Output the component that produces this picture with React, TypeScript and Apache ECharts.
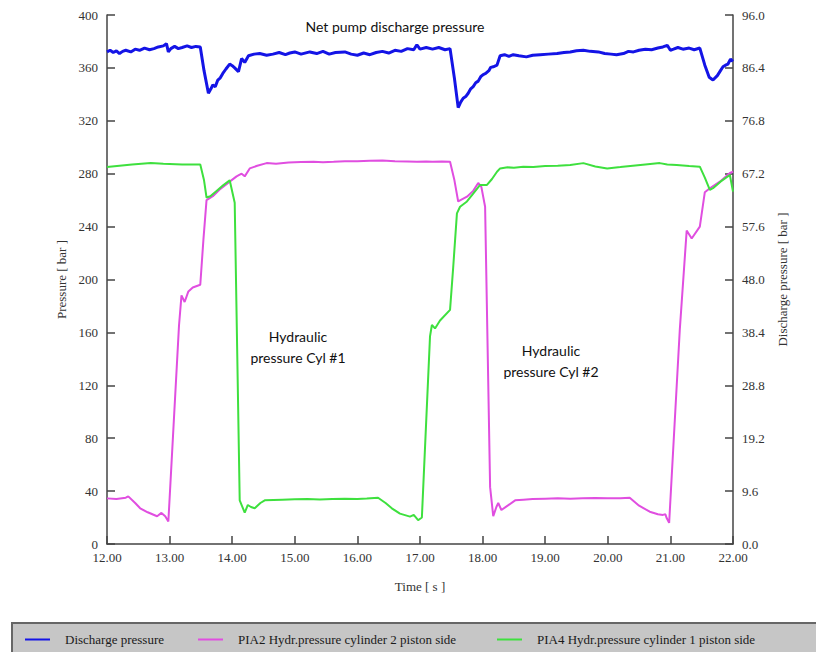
import React, { useEffect, useRef } from "react";
import * as echarts from "echarts";

// Time [s]
const xTicks = [12, 13, 14, 15, 16, 17, 18, 19, 20, 21, 22];

// Discharge pressure (right axis, bar)
const dischargeTime = [
  12.0, 12.05, 12.1, 12.15, 12.2, 12.25, 12.3, 12.38, 12.45, 12.52, 12.6, 12.68, 12.75, 12.82,
  12.9, 12.95, 12.98, 13.02, 13.08, 13.14, 13.2, 13.28, 13.35, 13.42, 13.49,
  13.55, 13.62, 13.66, 13.69, 13.73, 13.77, 13.81, 13.85, 13.9, 13.96, 14.0, 14.04, 14.1,
  14.15, 14.2, 14.26, 14.35, 14.44, 14.55, 14.65, 14.75, 14.85, 14.92, 15.0, 15.1, 15.24,
  15.35, 15.45, 15.55, 15.65, 15.8, 15.9, 16.0, 16.1, 16.2, 16.3, 16.4, 16.5, 16.6, 16.7,
  16.8, 16.9, 16.95, 17.0, 17.1, 17.2, 17.3, 17.4, 17.48,
  17.55, 17.61, 17.65, 17.69, 17.73, 17.77, 17.81, 17.85, 17.89, 17.93, 17.97, 18.01, 18.05,
  18.1, 18.13, 18.17, 18.23, 18.28, 18.35, 18.42, 18.49, 18.58, 18.7, 18.8, 18.92, 19.05,
  19.19, 19.3, 19.4, 19.5, 19.61, 19.72, 19.85, 19.95, 20.05, 20.14, 20.25, 20.33, 20.41,
  20.5, 20.6, 20.7, 20.8, 20.88, 20.95, 21.0, 21.05, 21.12, 21.2, 21.3, 21.38, 21.47,
  21.55, 21.62, 21.68, 21.75, 21.8, 21.84, 21.88, 21.92, 21.96, 22.0,
];
const dischargeValue = [
  89.3, 89.6, 89.2, 89.5, 89.0, 89.4, 89.6, 89.3, 89.8, 89.6, 90.0, 89.7, 89.9, 90.2,
  90.4, 90.8, 89.3, 89.9, 90.3, 89.9, 90.1, 90.4, 90.1, 90.3, 90.2,
  85.9, 81.8, 82.6, 83.3, 83.0, 84.2, 84.6, 85.4, 86.2, 87.1, 86.8, 86.4, 85.7,
  88.1, 87.4, 88.6, 88.9, 89.0, 88.7, 88.9, 89.2, 88.8, 89.1, 89.3, 88.9, 89.3,
  89.0, 89.4, 88.9, 89.2, 89.3, 88.9, 88.7, 89.1, 88.8, 89.2, 89.4, 89.1, 89.6, 89.4,
  89.9, 89.7, 90.6, 89.8, 90.1, 89.8, 90.1, 89.7, 89.9,
  84.5, 79.2, 80.2, 80.9, 81.2, 81.8, 82.6, 83.0, 83.7, 84.0, 84.8, 85.2, 85.4,
  85.9, 86.5, 86.6, 86.9, 88.6, 88.8, 88.5, 88.8, 88.6, 88.4, 88.7, 88.8, 88.9,
  89.0, 89.2, 89.3, 89.5, 89.6, 89.4, 89.3, 89.0, 88.9, 88.8, 89.0, 89.4, 89.3,
  89.6, 89.8, 89.7, 90.0, 90.2, 90.5, 89.6, 89.8, 90.1, 89.8, 90.0, 89.7, 90.0,
  86.9, 84.7, 84.2, 85.0, 85.9, 86.6, 86.9, 87.1, 88.0, 87.6,
];

// PIA2 Hydr.pressure cylinder 2 piston side (left axis, bar)
const pia2Time = [
  12.0, 12.15, 12.3, 12.34, 12.45, 12.53, 12.65, 12.8, 12.87, 12.93, 12.98, 13.15, 13.19,
  13.24, 13.3, 13.37, 13.49, 13.54, 13.59, 13.69, 13.8, 13.96, 14.07, 14.15, 14.2, 14.28,
  14.4, 14.55, 14.7, 14.9, 15.1, 15.3, 15.45, 15.62, 15.8, 16.0, 16.2, 16.4, 16.6, 16.8,
  16.95, 17.1, 17.2, 17.35, 17.48, 17.55, 17.61, 17.75, 17.85,
  17.93, 17.98, 18.04, 18.12, 18.17, 18.22, 18.25, 18.3, 18.4, 18.52, 18.65, 18.8, 19.0,
  19.2, 19.4, 19.6, 19.8, 20.0, 20.2, 20.35, 20.5, 20.67, 20.8, 20.88, 20.92, 20.94, 20.98,
  21.15, 21.26, 21.34, 21.47, 21.55, 21.63, 21.79, 21.95, 22.0,
];
const pia2Value = [
  34.5, 34, 35, 36, 31, 27, 24, 21, 23.5, 21, 17, 165, 188,
  183, 191, 194, 196, 230, 260, 263, 268, 274, 278, 280, 278, 284,
  286, 288, 287.5, 288.5, 288.8, 289, 288.6, 289, 289.5, 289.5, 289.8, 290, 289.5, 289.2,
  289, 289.3, 289, 289.2, 289, 275, 259, 262.6, 267,
  273, 270, 255, 43, 21, 28, 31, 25.7, 29, 33, 33.5, 34, 34.3,
  34.5, 34.2, 34.5, 34.8, 34.5, 34.6, 35, 29, 24.4, 22.5, 22, 22.5, 19.6, 16,
  162, 237, 231, 240, 266, 269, 274, 280.5, 281.5,
];

// PIA4 Hydr.pressure cylinder 1 piston side (left axis, bar)
const pia4Time = [
  12.0, 12.2, 12.4, 12.7, 12.9, 13.2, 13.49, 13.55, 13.59, 13.65, 13.75, 13.85, 13.96,
  14.04, 14.12, 14.2, 14.25, 14.3, 14.36, 14.45, 14.52, 14.8, 15.0, 15.2, 15.4, 15.6, 15.8,
  16.0, 16.15, 16.33, 16.45, 16.55, 16.68, 16.84, 16.9, 16.97, 17.03, 17.16, 17.19, 17.24,
  17.32, 17.48, 17.53, 17.59, 17.64, 17.75, 17.85, 17.96, 18.07, 18.15, 18.23, 18.28, 18.4,
  18.5, 18.65, 18.81, 19.0, 19.2, 19.4, 19.61, 19.8, 19.99, 20.2, 20.4, 20.6, 20.83, 20.95,
  21.1, 21.3, 21.47, 21.55, 21.63, 21.68, 21.8, 21.95, 22.0,
];
const pia4Value = [
  285, 286, 287, 288, 287.5, 287, 287, 275, 262, 263, 267, 271, 275,
  258, 33, 23.7, 29.5, 28, 27, 31, 33, 33.5, 33.8, 34, 33.6, 34, 34.2,
  34, 34.4, 35, 31, 27, 23, 20.7, 22, 18, 20, 157, 165.6, 163,
  169, 177, 209, 250, 255, 259, 265, 271.5, 271.5, 276, 281.5, 284, 284.8,
  284.5, 285.2, 285, 285.8, 286, 286.5, 288, 285.5, 284, 285, 286, 287, 288, 287,
  286.5, 285.8, 285.3, 277, 267.7, 269, 274, 279, 266.4,
];

const seriesNames = [
  "Discharge pressure",
  "PIA2 Hydr.pressure cylinder 2 piston side",
  "PIA4 Hydr.pressure cylinder 1 piston side",
];
const seriesColors = ["#1414e6", "#e04ee0", "#3ee03e"];

const annotations = [
  { text: "Net pump discharge pressure", x: 395, y: 26 },
  { text: "Hydraulic\npressure Cyl #1", x: 298, y: 347 },
  { text: "Hydraulic\npressure Cyl #2", x: 551, y: 361 },
];

const zip = (a: number[], b: number[]) => a.map((t, i) => [t, b[i]]);

const serif = "Liberation Serif, Times New Roman, serif";

export default function App() {
  const ref = useRef<HTMLDivElement>(null);
  useEffect(() => {
    document.body.style.margin = "0";
    if (!ref.current) return;
    const chart = echarts.init(ref.current, undefined, { renderer: "svg" });
    const axisLine = { show: true, lineStyle: { color: "#444", width: 1.5 } };
    const axisTick = { show: true, inside: true, length: 8, lineStyle: { color: "#444", width: 1.5 } };
    const labelStyle = { fontFamily: serif, fontSize: 13, color: "#333" };
    const legendBase = (i: number, left: number) => ({
      data: [seriesNames[i]],
      left,
      top: 633,
      padding: 0,
      icon: "rect",
      itemWidth: 25,
      itemHeight: 2,
      z: 10,
      selectedMode: false,
      formatter: (n: string) => `{p|}{t|${n}}`,
      textStyle: {
        fontFamily: serif,
        fontSize: 13,
        color: "#1a1a1a",
        rich: {
          p: { width: 10 },
          t: { fontFamily: serif, fontSize: 13, color: "#1a1a1a" },
        },
      },
    });
    chart.setOption({
      animation: false,
      backgroundColor: "#fff",
      grid: { left: 107, right: 83, top: 15, bottom: 108 },
      xAxis: {
        type: "value",
        min: xTicks[0],
        max: xTicks[xTicks.length - 1],
        interval: 1,
        name: "Time [ s ]",
        nameLocation: "middle",
        nameGap: 36,
        nameTextStyle: labelStyle,
        axisLine,
        axisTick,
        splitLine: { show: false },
        axisLabel: { ...labelStyle, margin: 7, formatter: (v: number) => v.toFixed(2) },
      },
      yAxis: [
        {
          type: "value",
          min: 0,
          max: 400,
          interval: 40,
          name: "Pressure [ bar ]",
          nameLocation: "middle",
          nameGap: 36,
          nameTextStyle: labelStyle,
          axisLine,
          axisTick,
          splitLine: { show: false },
          axisLabel: { ...labelStyle, margin: 9 },
        },
        {
          type: "value",
          position: "right",
          min: 0,
          max: 96,
          interval: 9.6,
          name: "Discharge pressure [ bar ]",
          nameLocation: "middle",
          nameGap: 40,
          nameTextStyle: labelStyle,
          axisLine,
          axisTick,
          splitLine: { show: false },
          axisLabel: { ...labelStyle, margin: 9, formatter: (v: number) => v.toFixed(1) },
        },
      ],
      legend: [legendBase(0, 25), legendBase(1, 198), legendBase(2, 497)],
      graphic: [
        {
          type: "rect",
          z: 0,
          shape: { x: 12, y: 623, width: 840, height: 50 },
          style: { fill: "#c6c6c6", stroke: "#666", lineWidth: 2 },
        },
        ...annotations.map((a) => ({
          type: "text",
          x: a.x,
          y: a.y,
          z: 5,
          style: {
            text: a.text,
            fontFamily: "Lato, 'Open Sans', sans-serif",
            fontSize: 14,
            lineHeight: 21,
            fill: "#111",
            align: "center",
            verticalAlign: "middle",
          },
        })),
      ],
      series: [
        {
          name: seriesNames[0],
          type: "line",
          yAxisIndex: 1,
          data: zip(dischargeTime, dischargeValue),
          showSymbol: false,
          symbol: "none",
          lineStyle: { color: seriesColors[0], width: 3 },
          itemStyle: { color: seriesColors[0] },
        },
        {
          name: seriesNames[1],
          type: "line",
          yAxisIndex: 0,
          data: zip(pia2Time, pia2Value),
          showSymbol: false,
          symbol: "none",
          lineStyle: { color: seriesColors[1], width: 2 },
          itemStyle: { color: seriesColors[1] },
        },
        {
          name: seriesNames[2],
          type: "line",
          yAxisIndex: 0,
          data: zip(pia4Time, pia4Value),
          showSymbol: false,
          symbol: "none",
          lineStyle: { color: seriesColors[2], width: 2 },
          itemStyle: { color: seriesColors[2] },
        },
      ],
    });
    return () => chart.dispose();
  }, []);
  return <div ref={ref} style={{ width: 816, height: 652 }} />;
}
